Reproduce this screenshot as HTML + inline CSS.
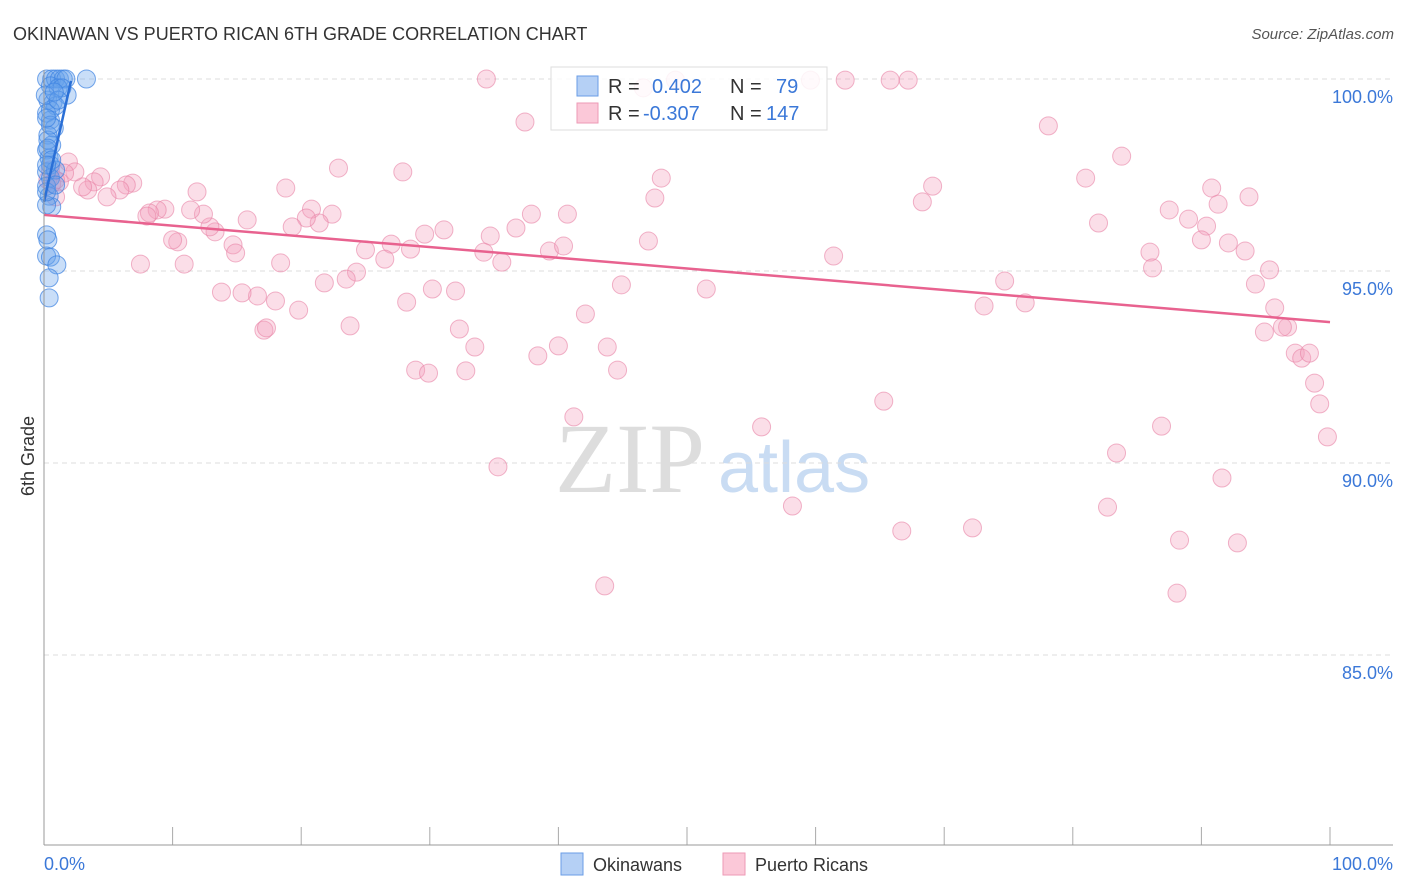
<!DOCTYPE html>
<html><head><meta charset="utf-8"><style>
body{margin:0;background:#fff;font-family:"Liberation Sans",sans-serif}
svg{display:block}
</style></head><body>
<svg id="chart" width="1406" height="892">
<text x="13" y="40" font-size="18" fill="#333">OKINAWAN VS PUERTO RICAN 6TH GRADE CORRELATION CHART</text>
<text x="1394" y="39" font-size="15" fill="#555" text-anchor="end" font-style="italic">Source: ZipAtlas.com</text>
<text x="555" y="492" font-size="100" fill="#ddd" font-family="Liberation Serif,serif">ZIP</text>
<text x="718" y="492" font-size="72" fill="#c9dcf3">atlas</text>
<text transform="translate(34,456) rotate(-90)" font-size="18" fill="#333" text-anchor="middle">6th Grade</text>
<g id="grid"></g><g id="pts"></g><g id="trend"></g>
<line x1="44" y1="70" x2="44" y2="845" stroke="#999"/>
<line x1="44" y1="845" x2="1393" y2="845" stroke="#999"/>
<text x="44" y="870" font-size="18" fill="#3b78d8">0.0%</text>
<text x="1393" y="870" font-size="18" fill="#3b78d8" text-anchor="end">100.0%</text>
<g>
<rect x="551" y="67" width="276" height="63" fill="#fff" fill-opacity="0.85" stroke="#ddd"/>
<rect x="577" y="76" width="21" height="20" fill="#b5d0f5" stroke="#6a9de6"/>
<rect x="577" y="103" width="21" height="20" fill="#fbc8d8" stroke="#ee9ab6"/>
<text x="608" y="93" font-size="20" fill="#333">R = </text><text x="652" y="93" font-size="20" fill="#3b78d8">0.402</text>
<text x="730" y="93" font-size="20" fill="#333">N = </text><text x="776" y="93" font-size="20" fill="#3b78d8">79</text>
<text x="608" y="120" font-size="20" fill="#333">R = </text><text x="643" y="120" font-size="20" fill="#3b78d8">-0.307</text>
<text x="730" y="120" font-size="20" fill="#333">N = </text><text x="766" y="120" font-size="20" fill="#3b78d8">147</text>
</g>
<rect x="561" y="853" width="22" height="22" fill="#b5d0f5" stroke="#6a9de6"/>
<text x="593" y="871" font-size="18" fill="#333">Okinawans</text>
<rect x="723" y="853" width="22" height="22" fill="#fbc8d8" stroke="#ee9ab6"/>
<text x="755" y="871" font-size="18" fill="#333">Puerto Ricans</text>
</svg>
<script>
const yTicks=[100,95,90,85];
const yTickLabels=["100.0%","95.0%","90.0%","85.0%"];
const xTicks=[10,20,30,40,50,60,70,80,90,100];
const pinkX=[34.4,37.4,46.6,49.1,59.6,62.3,65.8,67.2,22.9,27.9,18.8,11.9,78.1,83.8,81.0,90.8,69.1,68.3,93.7,87.5,89.0,91.3,82.0,90.4,90.0,92.1,93.4,86.0,86.2,95.3,94.2,95.7,94.9,96.7,96.3,97.3,97.8,98.4,98.8,99.2,99.8,74.7,73.1,76.3,61.4,51.5,47.0,48.0,47.5,40.7,37.9,36.7,39.3,40.4,34.7,34.2,35.6,31.1,29.6,28.5,27.0,25.0,26.5,24.3,23.5,21.8,23.8,28.2,30.2,32.0,32.3,33.5,32.8,28.9,29.9,38.4,40.0,42.1,43.8,44.6,44.9,41.2,35.3,55.8,58.2,65.3,66.7,72.2,82.7,83.4,86.9,88.3,91.6,92.8,88.1,43.6,22.4,20.8,21.4,20.4,19.3,18.4,18.0,19.8,16.6,15.4,13.8,17.1,17.3,14.7,14.9,13.3,12.9,12.4,11.4,15.8,10.4,10.0,10.9,7.5,9.4,8.8,8.2,8.0,6.9,6.4,5.9,4.9,4.4,3.9,3.4,3.0,1.9,2.4,1.6,1.2,0.9,0.6,0.3,0.5,0.9];
const pinkY=[100,98.88,99.77,99.97,99.97,99.97,99.97,99.97,97.68,97.58,97.16,97.06,98.78,97.99,97.42,97.16,97.21,96.80,96.93,96.59,96.35,96.74,96.25,96.17,95.81,95.73,95.52,95.49,95.08,95.03,94.66,94.04,93.41,93.54,93.54,92.86,92.73,92.86,92.08,91.54,90.68,94.74,94.09,94.17,95.39,94.53,95.78,97.42,96.90,96.48,96.48,96.12,95.52,95.65,95.91,95.49,95.23,96.07,95.96,95.57,95.70,95.55,95.31,94.97,94.79,94.69,93.57,94.19,94.53,94.48,93.49,93.02,92.40,92.42,92.34,92.79,93.05,93.88,93.02,92.42,94.64,91.20,89.90,90.94,88.88,91.61,88.23,88.31,88.85,90.26,90.96,87.99,89.61,87.92,86.61,86.80,96.48,96.61,96.25,96.38,96.15,95.21,94.22,93.98,94.35,94.43,94.45,93.46,93.52,95.68,95.47,96.02,96.15,96.48,96.59,96.33,95.76,95.81,95.18,95.18,96.61,96.59,96.51,96.43,97.29,97.24,97.11,96.93,97.45,97.32,97.11,97.19,97.84,97.58,97.55,97.32,96.93,97.27,97.37,97.63,97.37];
const blueX=[3.3,0.2,0.6,0.9,1.2,1.5,1.7,0.5,1.1,1.8,0.3,0.7,0.9,0.2,0.5,0.8,0.3,0.6,0.2,0.4,0.5,0.2,0.5,0.9,0.2,0.4,0.6,0.2,0.2,0.3,0.2,0.5,1.0,0.4,0.4,0.2,0.3,0.5,0.1,1.4,1.1,0.8,0.5,0.2,0.3,0.6,0.2,0.9];
const blueY=[100,100,100,100,100,100,100,99.82,99.77,99.58,99.45,99.38,99.30,99.11,98.93,98.72,98.54,98.28,98.15,97.94,97.76,97.58,97.42,97.63,97.21,96.95,96.67,96.72,95.94,95.81,95.39,95.36,95.16,94.82,94.30,97.06,98.41,99.19,99.58,99.77,99.45,99.66,98.80,98.98,98.20,97.89,97.76,97.24];
const pinkTrendX=[0,100], pinkTrendY=[96.46,93.67];
const blueTrendX=[0,2.1], blueTrendY=[96.8,99.95];

const NS="http://www.w3.org/2000/svg";
const sx=v=>44+v*12.86;
const sy=v=>79+(100-v)*38.4;
function mk(tag,attrs,parent){const e=document.createElementNS(NS,tag);for(const k in attrs)e.setAttribute(k,attrs[k]);document.getElementById(parent).appendChild(e);return e;}
yTicks.forEach((t,i)=>{
 const l=mk('line',{x1:44,x2:1393,y1:sy(t),y2:sy(t),stroke:'#ddd','stroke-dasharray':'5,4'},'grid');
 
 
 const tx=mk('text',{x:1393,y:sy(t)+24,'font-size':18,fill:'#3b78d8','text-anchor':'end'},'grid');
 tx.textContent=yTickLabels[i];
 
 
});
xTicks.forEach(t=>{
 const l=mk('line',{x1:sx(t),x2:sx(t),y1:827,y2:845,stroke:'#aaa'},'grid');
 
 
});
pinkX.forEach((x,i)=>{
 const c=mk('circle',{cx:sx(x),cy:sy(pinkY[i]),r:9,fill:'rgba(244,160,190,0.35)',stroke:'rgba(232,130,165,0.6)','stroke-width':1},'pts');
 
 
});
blueX.forEach((x,i)=>{
 const c=mk('circle',{cx:sx(x),cy:sy(blueY[i]),r:9,fill:'rgba(100,160,235,0.35)',stroke:'rgba(60,130,225,0.7)','stroke-width':1},'pts');
 
 
});
const pt=mk('line',{x1:sx(pinkTrendX[0]),y1:sy(pinkTrendY[0]),x2:sx(pinkTrendX[1]),y2:sy(pinkTrendY[1]),stroke:'#e8628f','stroke-width':2.5},'trend');


const bt=mk('line',{x1:sx(blueTrendX[0]),y1:sy(blueTrendY[0]),x2:sx(blueTrendX[1]),y2:sy(blueTrendY[1]),stroke:'#2a6fd6','stroke-width':2.5},'trend');


</script>
</body></html>
